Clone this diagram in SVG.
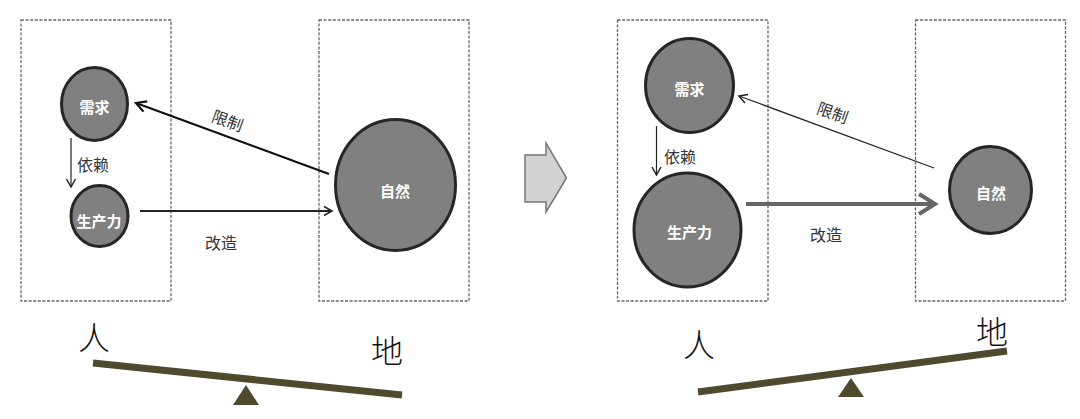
<svg xmlns="http://www.w3.org/2000/svg" width="1080" height="419" viewBox="0 0 1080 419">
<style>
text{font-family:"Noto Sans CJK SC","Noto Sans",sans-serif;text-anchor:middle;dominant-baseline:central}
.box{fill:none;stroke:#666;stroke-width:1.3;stroke-dasharray:3 1.6}
.c{fill:#808080;stroke:#262626;stroke-width:3}
.w{fill:#fff;font-size:15px;font-weight:700}
.l{fill:#333;font-size:16px}
.big{fill:#111;font-size:32px;font-weight:300}
.beam{stroke:#4f4a2e;stroke-width:7;fill:none}
.tri{fill:#4f4a2e}
.a{fill:none;stroke:#222}
</style>
<defs>
<marker id="h" markerUnits="userSpaceOnUse" markerWidth="12" markerHeight="12" refX="9" refY="5" orient="auto" overflow="visible"><path d="M1 0.5L9 5L1 9.5" fill="none" stroke="#222" stroke-width="1.5"/></marker>
<marker id="hb" markerUnits="userSpaceOnUse" markerWidth="14" markerHeight="14" refX="11" refY="6" orient="auto" overflow="visible"><path d="M1 0.5L11 6L1 11.5" fill="none" stroke="#111" stroke-width="2.2"/></marker>
<marker id="hg" markerUnits="userSpaceOnUse" markerWidth="24" markerHeight="24" refX="18" refY="11" orient="auto" overflow="visible"><path d="M2 1L18 11L2 21" fill="none" stroke="#666" stroke-width="4"/></marker>
</defs>
<rect width="1080" height="419" fill="#fff"/>
<g id="box-people-1"><rect class="box" x="21" y="20" width="150" height="281"/></g>
<g id="box-land-1"><rect class="box" x="319" y="20" width="150" height="281"/></g>
<g id="box-people-2"><rect class="box" x="617.5" y="20" width="150.5" height="281"/></g>
<g id="box-land-2"><rect class="box" x="915.5" y="20" width="150" height="281"/></g>
<g id="connectors">
<line class="a" x1="329" y1="174" x2="136" y2="103" stroke-width="2.2" style="stroke:#111" marker-end="url(#hb)"/>
<line class="a" x1="71" y1="138" x2="71" y2="187" stroke-width="1.2" marker-end="url(#h)"/>
<line class="a" x1="140" y1="211" x2="332" y2="211" stroke-width="1.8" marker-end="url(#h)"/>
<line class="a" x1="934" y1="168" x2="739" y2="96" stroke-width="1.2" marker-end="url(#h)"/>
<line class="a" x1="656.5" y1="126" x2="656.5" y2="175" stroke-width="1.2" marker-end="url(#h)"/>
<line x1="746" y1="204" x2="935" y2="204" stroke="#666" stroke-width="4" marker-end="url(#hg)"/>
</g>
<g id="need-1"><ellipse class="c" cx="94.5" cy="104" rx="33" ry="36.5"/><text class="w" x="94.5" y="106">需求</text></g>
<g id="prod-1"><ellipse class="c" cx="99.5" cy="216" rx="28.5" ry="30.5"/><text class="w" x="99" y="220">生产力</text></g>
<g id="nature-1"><ellipse class="c" cx="395.5" cy="185" rx="60" ry="65.5"/><text class="w" x="395" y="190">自然</text></g>
<g id="need-2"><ellipse class="c" cx="689.5" cy="85.5" rx="44" ry="47"/><text class="w" x="689.5" y="88">需求</text></g>
<g id="prod-2"><ellipse class="c" cx="687.5" cy="230" rx="53.5" ry="57"/><text class="w" x="689.5" y="231">生产力</text></g>
<g id="nature-2"><ellipse class="c" cx="990.5" cy="190" rx="41" ry="43.5"/><text class="w" x="991" y="192">自然</text></g>
<g id="labels">
<text class="l" x="228" y="120" transform="rotate(20 228 120)">限制</text>
<text class="l" x="93" y="164">依赖</text>
<text class="l" x="221" y="242">改造</text>
<text class="l" x="833" y="112" transform="rotate(20 833 112)">限制</text>
<text class="l" x="680" y="156">依赖</text>
<text class="l" x="826" y="234">改造</text>
</g>
<g id="shift-arrow"><path d="M525 155H546V143L566.5 178L546 212V202H525Z" fill="#d2d2d2" stroke="#777" stroke-width="1.5"/></g>
<g id="balance-1">
<text class="big" x="94" y="336">人</text><text class="big" x="387" y="349">地</text>
<line class="beam" x1="93" y1="363" x2="402" y2="395"/>
<polygon class="tri" points="246,385 259,405 233,405"/>
</g>
<g id="balance-2">
<text class="big" x="699" y="343">人</text><text class="big" x="992" y="330">地</text>
<line class="beam" x1="698" y1="392" x2="1007" y2="351"/>
<polygon class="tri" points="851,378 864,397 838,397"/>
</g>
</svg>
